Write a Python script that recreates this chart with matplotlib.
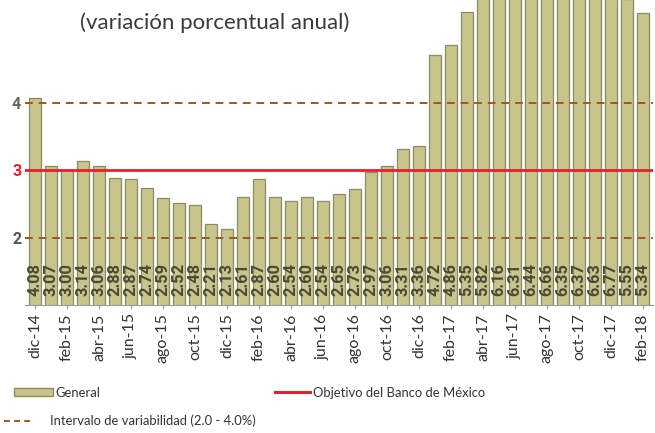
import matplotlib
matplotlib.use("Agg")
import matplotlib.pyplot as plt
from matplotlib.lines import Line2D
from matplotlib.patches import Patch

plt.rcParams["font.family"] = ["Lato", "DejaVu Sans"]

months = ["dic-14","ene-15","feb-15","mar-15","abr-15","may-15","jun-15","jul-15","ago-15","sep-15",
          "oct-15","nov-15","dic-15","ene-16","feb-16","mar-16","abr-16","may-16","jun-16","jul-16",
          "ago-16","sep-16","oct-16","nov-16","dic-16","ene-17","feb-17","mar-17","abr-17","may-17",
          "jun-17","jul-17","ago-17","sep-17","oct-17","nov-17","dic-17","ene-18","feb-18"]
general = [4.08, 3.07, 3.00, 3.14, 3.06, 2.88, 2.87, 2.74, 2.59, 2.52,
           2.48, 2.21, 2.13, 2.61, 2.87, 2.60, 2.54, 2.60, 2.54, 2.65,
           2.73, 2.97, 3.06, 3.31, 3.36, 4.72, 4.86, 5.35, 5.82, 6.16,
           6.31, 6.44, 6.66, 6.35, 6.37, 6.63, 6.77, 5.55, 5.34]
objetivo = 3.0
intervalo = [2.0, 4.0]
yticks = [2, 3, 4]

W, H = 655, 433
fig = plt.figure(figsize=(W/100, H/100), dpi=100)
ax = fig.add_axes([25.4/W, 1-305/H, 627.2/W, 305/H])

x = list(range(len(general)))
bar_color = "#C8C58C"
edge_color = "#8E8A62"
ax.bar(x, general, width=0.75, bottom=0, color=bar_color, edgecolor=edge_color,
       linewidth=0.9, zorder=2)

for xi, v in zip(x, general):
    ax.text(xi, 1.14, f"{v:.2f}", rotation=90, ha="center", va="bottom",
            fontsize=11.8, color="#4A4A35", fontweight="bold", family="Roboto", zorder=3)

ax.axhline(objetivo, color="#E8202A", lw=2.0, zorder=4)
brown = "#9A5A22"
for lvl in intervalo:
    ax.axhline(lvl, color=brown, lw=1.4, ls=(0, (4, 3)), zorder=4)

ax.set_xlim(-0.6, len(general) - 0.4)
ax.set_ylim(1.0, 5.53)
ax.set_yticks(yticks)
ax.set_yticklabels([str(t) for t in yticks], fontsize=11.5, fontweight="bold", family="Roboto")
for lbl, c in zip(ax.get_yticklabels(), ["#555555", "#E8202A", "#666655"]):
    lbl.set_color(c)
ax.tick_params(axis="y", direction="in", length=5, color="#777777", pad=3)
ax.set_xticks(x[::2])
ax.set_xticklabels(months[::2], rotation=90, fontsize=11.5, color="#333333")
ax.tick_params(axis="x", length=3, color="#999999", pad=3)
for s in ["top", "right", "left"]:
    ax.spines[s].set_visible(False)
ax.spines["bottom"].set_color("#999999")

fig.text(215/W, 1-23/H, "(variación porcentual anual)", ha="center", va="center",
         fontsize=16, color="#3A3A3A")

fs = 9.4
common = dict(loc="center left", frameon=False, fontsize=fs, borderpad=0, borderaxespad=0,
              labelcolor="#333333")
fig.legend(handles=[Patch(facecolor=bar_color, edgecolor=edge_color, label="General")],
           bbox_to_anchor=(14/W, 1-393/H), handlelength=3.0, handleheight=0.55,
           handletextpad=0.2, **common)
fig.legend(handles=[Line2D([], [], color=brown, lw=1.4, ls=(0, (3, 2.2)),
                           label="Intervalo de variabilidad (2.0 - 4.0%)")],
           bbox_to_anchor=(4/W, 1-421/H), handlelength=2.0, handletextpad=1.5, **common)
fig.legend(handles=[Line2D([], [], color="#E8202A", lw=2.2, label="Objetivo del Banco de México")],
           bbox_to_anchor=(275/W, 1-393/H), handlelength=2.7, handletextpad=0.2, **common)

fig.savefig("out.png", dpi=100)
